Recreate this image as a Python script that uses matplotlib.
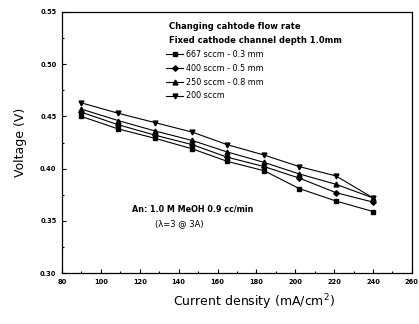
import numpy as np
import matplotlib.pyplot as plt
from matplotlib.ticker import MultipleLocator

# current density (mA/cm2)
current = [90, 109, 128, 147, 165, 184, 202, 221, 240]

# voltage (V) per cathode flow rate
v_667 = [0.450, 0.438, 0.429, 0.419, 0.407, 0.398, 0.381, 0.369, 0.359]
v_400 = [0.454, 0.442, 0.432, 0.423, 0.411, 0.402, 0.391, 0.377, 0.368]
v_250 = [0.457, 0.446, 0.436, 0.427, 0.416, 0.406, 0.395, 0.385, 0.372]
v_200 = [0.463, 0.453, 0.444, 0.435, 0.423, 0.413, 0.402, 0.393, 0.372]

labels = ["667 sccm - 0.3 mm", "400 sccm - 0.5 mm", "250 sccm - 0.8 mm", "200 sccm"]
markers = ["s", "D", "^", "v"]
series = [v_667, v_400, v_250, v_200]

fig = plt.figure(figsize=(4.19, 3.24), dpi=100)
ax = fig.add_axes([0.148, 0.157, 0.835, 0.806])

for vals, m, lab in zip(series, markers, labels):
    ax.plot(current, vals, color="black", lw=0.8, marker=m,
            ms=3.5 if m != "D" else 2.8, label=lab)

ax.set_xlim(80, 260)
ax.set_ylim(0.30, 0.55)
ax.xaxis.set_major_locator(MultipleLocator(20))
ax.xaxis.set_minor_locator(MultipleLocator(10))
ax.yaxis.set_minor_locator(MultipleLocator(0.025))
ax.set_yticks(np.arange(0.30, 0.551, 0.05))
ax.set_yticklabels([f"{t:.2f}" for t in np.arange(0.30, 0.551, 0.05)])
ax.tick_params(which="both", direction="in", labelsize=4.8, width=0.8, pad=4)
ax.tick_params(which="major", length=3)
ax.tick_params(which="minor", length=1.5)
for lb in ax.get_xticklabels() + ax.get_yticklabels():
    lb.set_fontweight("bold")
for s in ax.spines.values():
    s.set_linewidth(0.9)

ax.set_xlabel("Current density (mA/cm$^2$)", fontsize=9)
ax.xaxis.set_label_coords(0.55, -0.075)
ax.set_ylabel("Voltage (V)", fontsize=9)
ax.yaxis.set_label_coords(-0.1, 0.5)

leg = ax.legend(loc="upper left", bbox_to_anchor=(0.285, 0.87), frameon=False,
                fontsize=5.8, handlelength=2.2, labelspacing=0.6,
                handletextpad=0.3, borderpad=0)
ax.text(0.305, 0.945, "Changing cahtode flow rate", transform=ax.transAxes,
        fontsize=6, fontweight="bold", va="center")
ax.text(0.305, 0.89, "Fixed cathode channel depth 1.0mm", transform=ax.transAxes,
        fontsize=6, fontweight="bold", va="center")

ax.text(0.2, 0.245, "An: 1.0 M MeOH 0.9 cc/min", transform=ax.transAxes,
        fontsize=5.8, fontweight="bold", va="center")
ax.text(0.265, 0.19, "(\u03bb=3 @ 3A)", transform=ax.transAxes,
        fontsize=6, va="center")

fig.savefig("out.png", dpi=100)
